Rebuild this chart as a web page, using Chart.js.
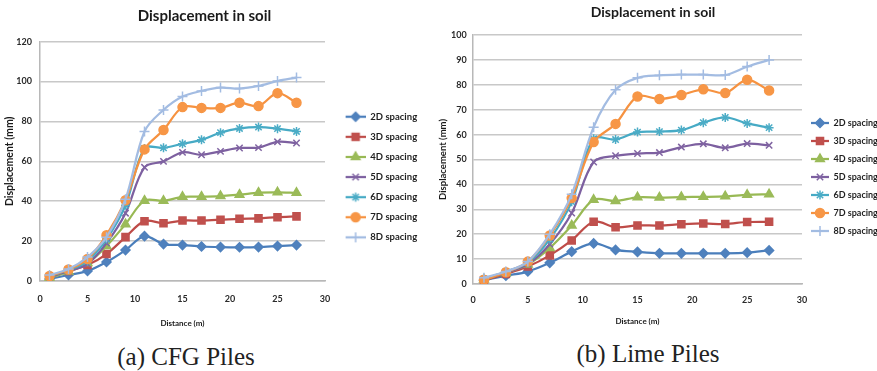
<!DOCTYPE html>
<html>
<head>
<meta charset="utf-8">
<script src="https://cdn.jsdelivr.net/npm/chart.js@4.4.1/dist/chart.umd.min.js"></script>
<style>
    html, body { margin: 0; padding: 0; background: #fff; width: 877px; height: 371px; overflow: hidden; position: relative; }
    .wrap { position: absolute; top: 0; }
    .caption { position: absolute; font-family: 'Liberation Serif', serif; font-size: 25px; color: #222; transform: translate(-50%, -50%); white-space: nowrap; }
</style>
</head>
<body>
<div class="wrap" style="left:-14px"><canvas id="cfgChart" width="437" height="330"></canvas></div>
<div class="wrap" style="left:422px"><canvas id="limeChart" width="462" height="330"></canvas></div>
<div class="caption" style="left:186px;top:357px">(a) CFG Piles</div>
<div class="caption" style="left:648px;top:354px">(b) Lime Piles</div>
<script>
// distance from pile (m)
const distance = [1, 3, 5, 7, 9, 11, 13, 15, 17, 19, 21, 23, 25, 27];
const seriesLabels = ['2D spacing', '3D spacing', '4D spacing', '5D spacing', '6D spacing', '7D spacing', '8D spacing'];

// (a) CFG piles, displacement (mm)
const cfg2D = [1, 3, 5, 9.5, 15.5, 22.5, 18.5, 18, 17.3, 17, 16.9, 17, 17.5, 18];
const cfg3D = [1.5, 5, 8, 13.5, 22, 30, 29, 30.3, 30.3, 30.7, 31.2, 31.4, 32, 32.4];
const cfg4D = [1.5, 4.8, 9, 17.5, 28.5, 40.3, 40.2, 42.2, 42.3, 42.6, 43.3, 44.3, 44.5, 44.2];
const cfg5D = [2, 5, 8.5, 19, 34, 57, 60, 64.5, 63.3, 65, 66.7, 66.9, 69.8, 69.2];
const cfg6D = [2.5, 5.5, 10, 21, 38, 66.5, 66.8, 68.8, 70.8, 74.4, 76.5, 77.2, 76.4, 75];
const cfg7D = [2.5, 5.8, 11, 23, 40.5, 66, 75.7, 87.2, 86.8, 86.8, 89.4, 87.7, 94.2, 89.4];
const cfg8D = [3, 6, 12, 22, 41, 75, 85.8, 92.5, 95.3, 97, 96.5, 97.8, 100.3, 102];

// (b) Lime piles, displacement (mm)
const lime2D = [1.5, 3.3, 5, 8.5, 13, 16.3, 13.7, 12.9, 12.3, 12.3, 12.3, 12.3, 12.6, 13.5];
const lime3D = [1.5, 4, 7, 11.5, 17.5, 25, 22.8, 23.5, 23.5, 24, 24.3, 24.1, 24.9, 25];
const lime4D = [1.8, 4.4, 7.8, 14.5, 23.5, 33.8, 33.3, 34.8, 34.7, 34.9, 35, 35.2, 35.8, 36];
const lime5D = [2, 4.5, 8, 16, 28.5, 49, 51.5, 52.4, 52.8, 55, 56.3, 54.7, 56.4, 55.7];
const lime6D = [2, 5, 8.5, 18, 33, 58.3, 58, 61, 61.2, 61.8, 64.8, 66.9, 64.5, 62.8];
const lime7D = [1.7, 4.7, 9, 19.5, 34.5, 57, 64.3, 75.3, 74.3, 75.9, 78.2, 76.7, 82, 77.7];
const lime8D = [2.5, 5, 9, 20, 36, 63, 78, 82.8, 83.8, 84.1, 84.1, 83.9, 87.3, 90];

const lineColors = ['#4A7EBB', '#BE4B48', '#98B954', '#7D60A0', '#46AAC5', '#F69240', '#A3BCE2'];
const markerColors = ['#4F81BD', '#C0504D', '#9BBB59', '#8064A2', '#4BACC6', '#F79646', '#A3BCE2'];
const markerStyles = ['rectRot', 'rect', 'triangle', 'crossRot', 'star', 'circle', 'cross'];
const markerSizes = [4.5, 5, 5, 4.5, 4.5, 4.5, 5];

const FONT = 'Lato, "Open Sans", sans-serif';

function legendIcon(i, width, offset, sample) {
    const c = document.createElement('canvas');
    c.width = width;
    c.height = 14;
    const ctx = c.getContext('2d');
    ctx.strokeStyle = lineColors[i];
    ctx.lineWidth = 2.25;
    ctx.beginPath();
    ctx.moveTo(offset, 7);
    ctx.lineTo(offset + sample, 7);
    ctx.stroke();
    ctx.fillStyle = markerColors[i];
    ctx.strokeStyle = markerColors[i];
    ctx.lineWidth = 1.5;
    Chart.helpers.drawPoint(ctx, { pointStyle: markerStyles[i], radius: markerSizes[i], rotation: 0, borderWidth: 1.5 }, offset + sample / 2, 7);
    return c;
}

function makeDatasets(series) {
    return series.map((vals, i) => ({
        label: seriesLabels[i],
        data: vals.map((v, k) => ({ x: distance[k], y: v })),
        borderColor: lineColors[i],
        backgroundColor: markerColors[i],
        pointBackgroundColor: markerColors[i],
        pointBorderColor: markerColors[i],
        pointStyle: markerStyles[i],
        pointRadius: markerSizes[i],
        pointBorderWidth: 1.5,
        borderWidth: 2.25,
        tension: 0.33,
        order: series.length - i
    }));
}

function makeChart(id, series, cfg) {
    return new Chart(document.getElementById(id), {
        type: 'line',
        data: { datasets: makeDatasets(series) },
        options: {
            responsive: false,
            animation: false,
            devicePixelRatio: 1,
            layout: { padding: 0 },
            plugins: {
                title: {
                    display: true,
                    text: 'Displacement in soil',
                    color: '#1a1a1a',
                    font: { family: FONT, size: cfg.titleSize, weight: 'bold' },
                    padding: { top: cfg.titleTop, bottom: cfg.titleBottom }
                },
                legend: {
                    position: 'right',
                    align: 'start',
                    maxWidth: cfg.legendWidth,
                    title: { display: true, text: ' ', font: { size: 1 }, padding: { top: cfg.legendTop, bottom: 0 } },
                    labels: {
                        usePointStyle: true,
                        pointStyleWidth: cfg.boxWidth,
                        padding: cfg.legendPad,
                        color: '#1f1f1f',
                        font: { family: FONT, size: cfg.legendFont, weight: 'bold' },
                        generateLabels: chart => chart.data.datasets.map((ds, i) => ({
                            text: ds.label,
                            datasetIndex: i,
                            pointStyle: legendIcon(i, cfg.boxWidth, cfg.iconOffset, cfg.boxWidth - cfg.iconOffset),
                            fillStyle: 'transparent',
                            strokeStyle: 'transparent',
                            lineWidth: 0,
                            fontColor: '#1f1f1f',
                            hidden: false
                        }))
                    }
                },
                tooltip: { enabled: false }
            },
            scales: {
                x: {
                    type: 'linear',
                    min: 0,
                    max: 30,
                    ticks: { stepSize: 5, padding: cfg.xTickPad, color: '#2a2a2a', font: { family: FONT, size: 9, weight: 'bold' } },
                    grid: { display: false, drawTicks: false },
                    border: { display: true, color: '#B8B8B8', width: 1.5 },
                    title: {
                        display: true,
                        text: 'Distance (m)',
                        color: '#1a1a1a',
                        font: { family: FONT, size: 8, weight: 'bold' },
                        padding: { top: 0, bottom: cfg.xTitleBottom }
                    },
                    afterFit: s => { s.height = cfg.xHeight; }
                },
                y: {
                    min: 0,
                    max: cfg.yMax,
                    ticks: { stepSize: cfg.yStep, padding: cfg.yTickPad, color: '#2a2a2a', font: { family: FONT, size: 9, weight: 'bold' } },
                    grid: { color: '#C8C8C8', lineWidth: 1.5, drawTicks: false },
                    border: { display: true, color: '#B8B8B8', width: 1.5 },
                    title: {
                        display: true,
                        text: 'Displacement (mm)',
                        color: '#1a1a1a',
                        font: { family: FONT, size: cfg.yTitleSize, weight: 'bold' },
                        padding: { top: cfg.yTitleTop, bottom: 0 }
                    },
                    afterFit: s => { s.width = cfg.yWidth; }
                }
            }
        }
    });
}

makeChart('cfgChart', [cfg2D, cfg3D, cfg4D, cfg5D, cfg6D, cfg7D, cfg8D], {
    titleSize: 15, titleTop: 7, titleBottom: 16.7,
    legendWidth: 98, legendTop: 100.2, legendPad: 10.6, legendFont: 9.5, boxWidth: 30, iconOffset: 10,
    xTickPad: 13, xTitleBottom: 2.2, xHeight: 49,
    yMax: 120, yStep: 20, yTickPad: 8, yTitleSize: 10.5, yTitleTop: 17.7, yWidth: 54
});

makeChart('limeChart', [lime2D, lime3D, lime4D, lime5D, lime6D, lime7D, lime8D], {
    titleSize: 14, titleTop: 3.6, titleBottom: 14.6,
    legendWidth: 82, legendTop: 108.3, legendPad: 9, legendFont: 9, boxWidth: 18, iconOffset: 0,
    xTickPad: 11, xTitleBottom: 4.2, xHeight: 46,
    yMax: 100, yStep: 10, yTickPad: 6.3, yTitleSize: 9.5, yTitleTop: 15.3, yWidth: 51
});
</script>
</body>
</html>
